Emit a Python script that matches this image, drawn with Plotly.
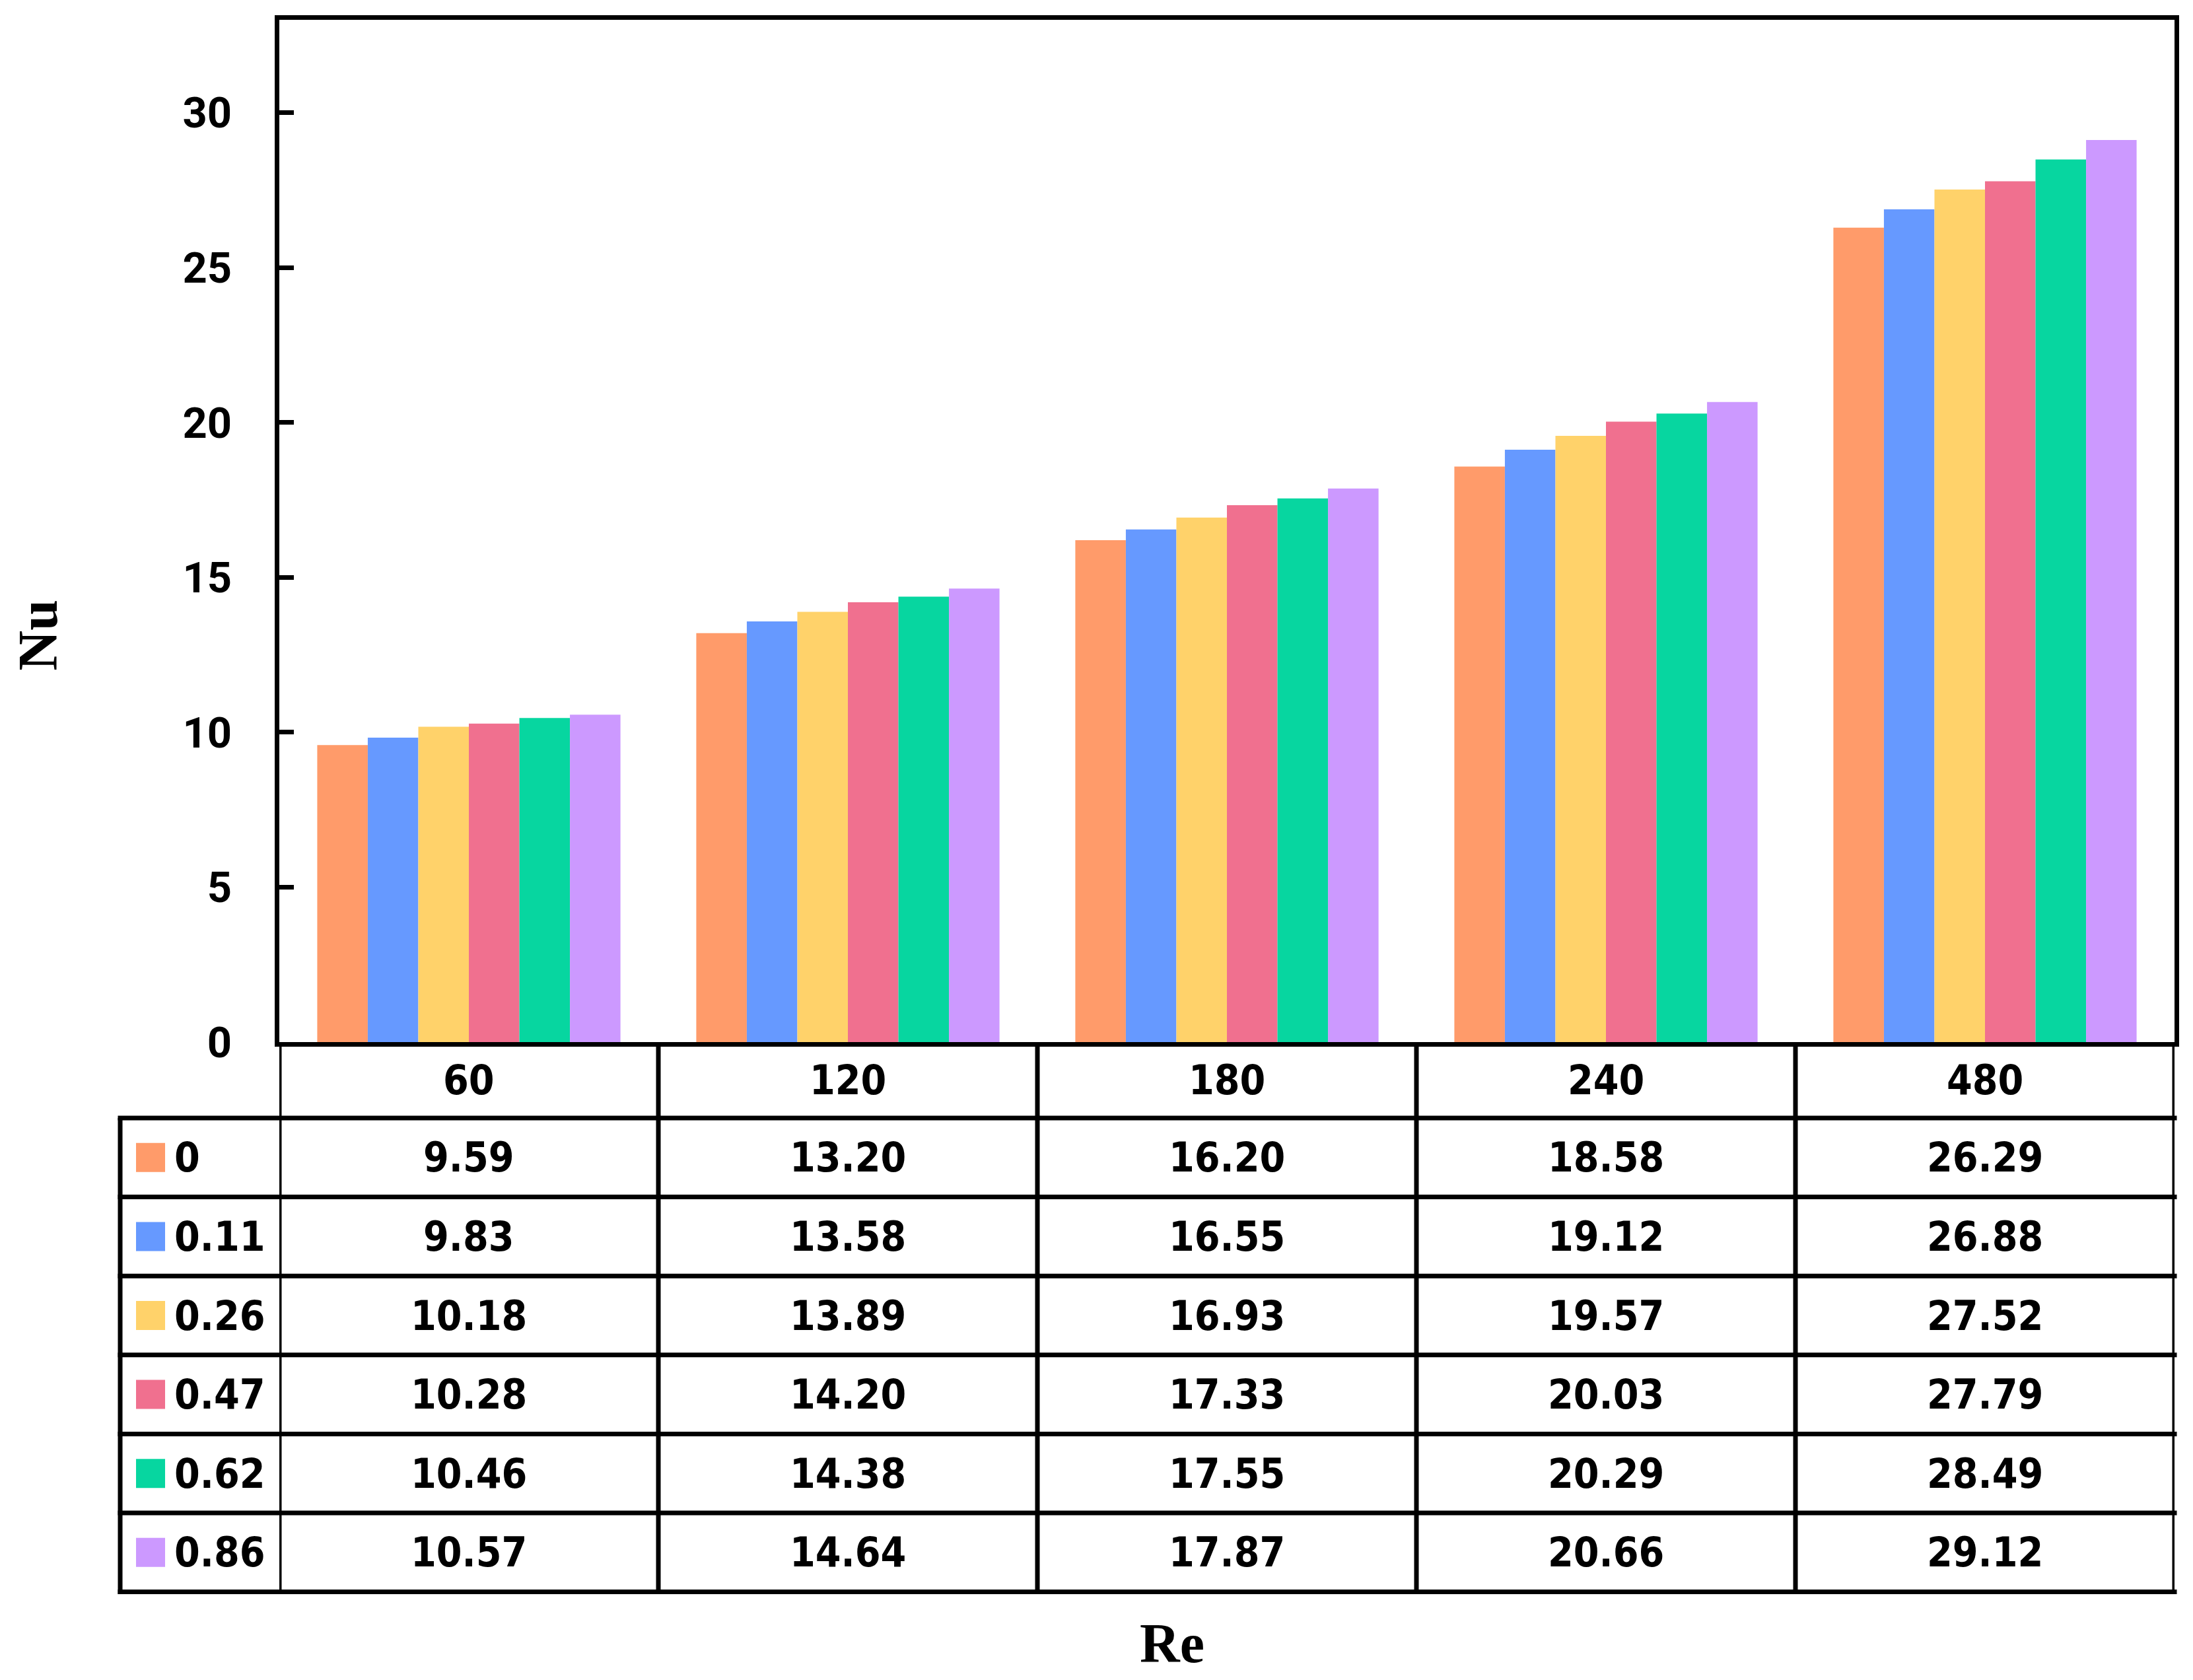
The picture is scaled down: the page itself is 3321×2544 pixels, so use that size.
import plotly.graph_objects as go

categories = ["60", "120", "180", "240", "480"]
series_names = ["0", "0.11", "0.26", "0.47", "0.62", "0.86"]
s_0 = [9.59, 13.20, 16.20, 18.58, 26.29]
s_011 = [9.83, 13.58, 16.55, 19.12, 26.88]
s_026 = [10.18, 13.89, 16.93, 19.57, 27.52]
s_047 = [10.28, 14.20, 17.33, 20.03, 27.79]
s_062 = [10.46, 14.38, 17.55, 20.29, 28.49]
s_086 = [10.57, 14.64, 17.87, 20.66, 29.12]
series_values = [s_0, s_011, s_026, s_047, s_062, s_086]
colors = ["#FF9B6A", "#6699FF", "#FFD26A", "#F0708F", "#07D6A0", "#CC99FF"]
y_ticks = [0, 5, 10, 15, 20, 25, 30]

OFF = 8                                    # default page body margin
W, H = 3321 - 2 * OFF, 2544 - 2 * OFF
# layout in page pixels
L, R, T, B = 423 - OFF, 3293 - OFF, 30 - OFF, 1578 - OFF
table_left = 182 - OFF
header_bottom = 1693 - OFF
row_h = 119.6
LW = 7
TXT_FONT = dict(family="DejaVu Sans Condensed, DejaVu Sans", size=62, color="black", weight="bold")
TICK_FONT = dict(family="Roboto, DejaVu Sans", size=65, color="black", weight="bold")

def px_x(p):
    return (p - L) / (R - L)

def px_y(p):
    return (B - p) / (B - T)

fig = go.Figure()
for name, vals, col in zip(series_names, series_values, colors):
    fig.add_trace(go.Bar(x=categories, y=vals, name=name, marker=dict(color=col, line=dict(width=0)),
                         showlegend=False))

shapes = []
annotations = []
n_rows = len(series_names)
table_bottom = header_bottom + n_rows * row_h

for i in range(n_rows + 1):
    yy = header_bottom + i * row_h
    shapes.append(dict(type="line", xref="paper", yref="paper", x0=px_x(table_left - LW / 2), x1=1 + (LW / 2) / (R - L),
                       y0=px_y(yy), y1=px_y(yy), line=dict(color="black", width=LW)))
shapes.append(dict(type="line", xref="paper", yref="paper", x0=px_x(table_left), x1=px_x(table_left),
                   y0=px_y(header_bottom), y1=px_y(table_bottom + LW / 2), line=dict(color="black", width=LW)))
for j in range(len(categories) + 1):
    xx = j - 0.5
    shapes.append(dict(type="line", xref="x", yref="paper", x0=xx, x1=xx,
                       y0=0, y1=px_y(table_bottom + LW / 2), line=dict(color="black", width=LW)))

for j, c in enumerate(categories):
    annotations.append(dict(x=j, xref="x", y=px_y((B + header_bottom) / 2), yref="paper", text=c,
                            showarrow=False, font=TXT_FONT, xanchor="center", yanchor="middle"))
for i, (name, vals, col) in enumerate(zip(series_names, series_values, colors)):
    yc = header_bottom + (i + 0.5) * row_h
    for j, c in enumerate(categories):
        annotations.append(dict(x=j, xref="x", y=px_y(yc), yref="paper", text=f"{vals[j]:.2f}",
                                showarrow=False, font=TXT_FONT, xanchor="center", yanchor="middle"))
    shapes.append(dict(type="rect", xref="paper", yref="paper", x0=px_x(206 - OFF), x1=px_x(250 - OFF),
                       y0=px_y(yc - 22), y1=px_y(yc + 22), fillcolor=col, line=dict(width=0)))
    annotations.append(dict(x=px_x(262 - OFF), xref="paper", y=px_y(yc), yref="paper", text=name,
                            showarrow=False, font=TXT_FONT, xanchor="left", yanchor="middle"))

TITLE_FONT = dict(family="Liberation Serif, Times New Roman, serif", size=84, color="black", weight="bold")
annotations.append(dict(x=px_x(OFF + 1 - OFF), xref="paper", y=px_y(962 - OFF), yref="paper", text="Nu", textangle=-90,
                        showarrow=False, font=TITLE_FONT, xanchor="left", yanchor="middle", borderpad=0))
annotations.append(dict(x=px_x(1775 - OFF), xref="paper", y=px_y(2536 - OFF), yref="paper", text="Re",
                        showarrow=False, font=TITLE_FONT, xanchor="center", yanchor="bottom", borderpad=0))

fig.update_layout(
    width=W, height=H,
    margin=dict(l=L, r=W - R, t=T, b=H - B, pad=0, autoexpand=False),
    paper_bgcolor="white", plot_bgcolor="white",
    barmode="group", bargap=0.2, bargroupgap=0,
    shapes=shapes, annotations=annotations,
    xaxis=dict(type="category", range=[-0.5, 4.5], showticklabels=False, ticks="",
               showline=True, linecolor="black", linewidth=LW, mirror=True, showgrid=False, zeroline=False),
    yaxis=dict(range=[0, 33], tickvals=y_ticks, ticks="inside", ticklen=22, tickwidth=LW, tickcolor="black",
               showline=True, linecolor="black", linewidth=LW, mirror=True, showgrid=False, zeroline=False,
               tickfont=TICK_FONT, ticklabelstandoff=52),
)

fig.write_html("out.html")
